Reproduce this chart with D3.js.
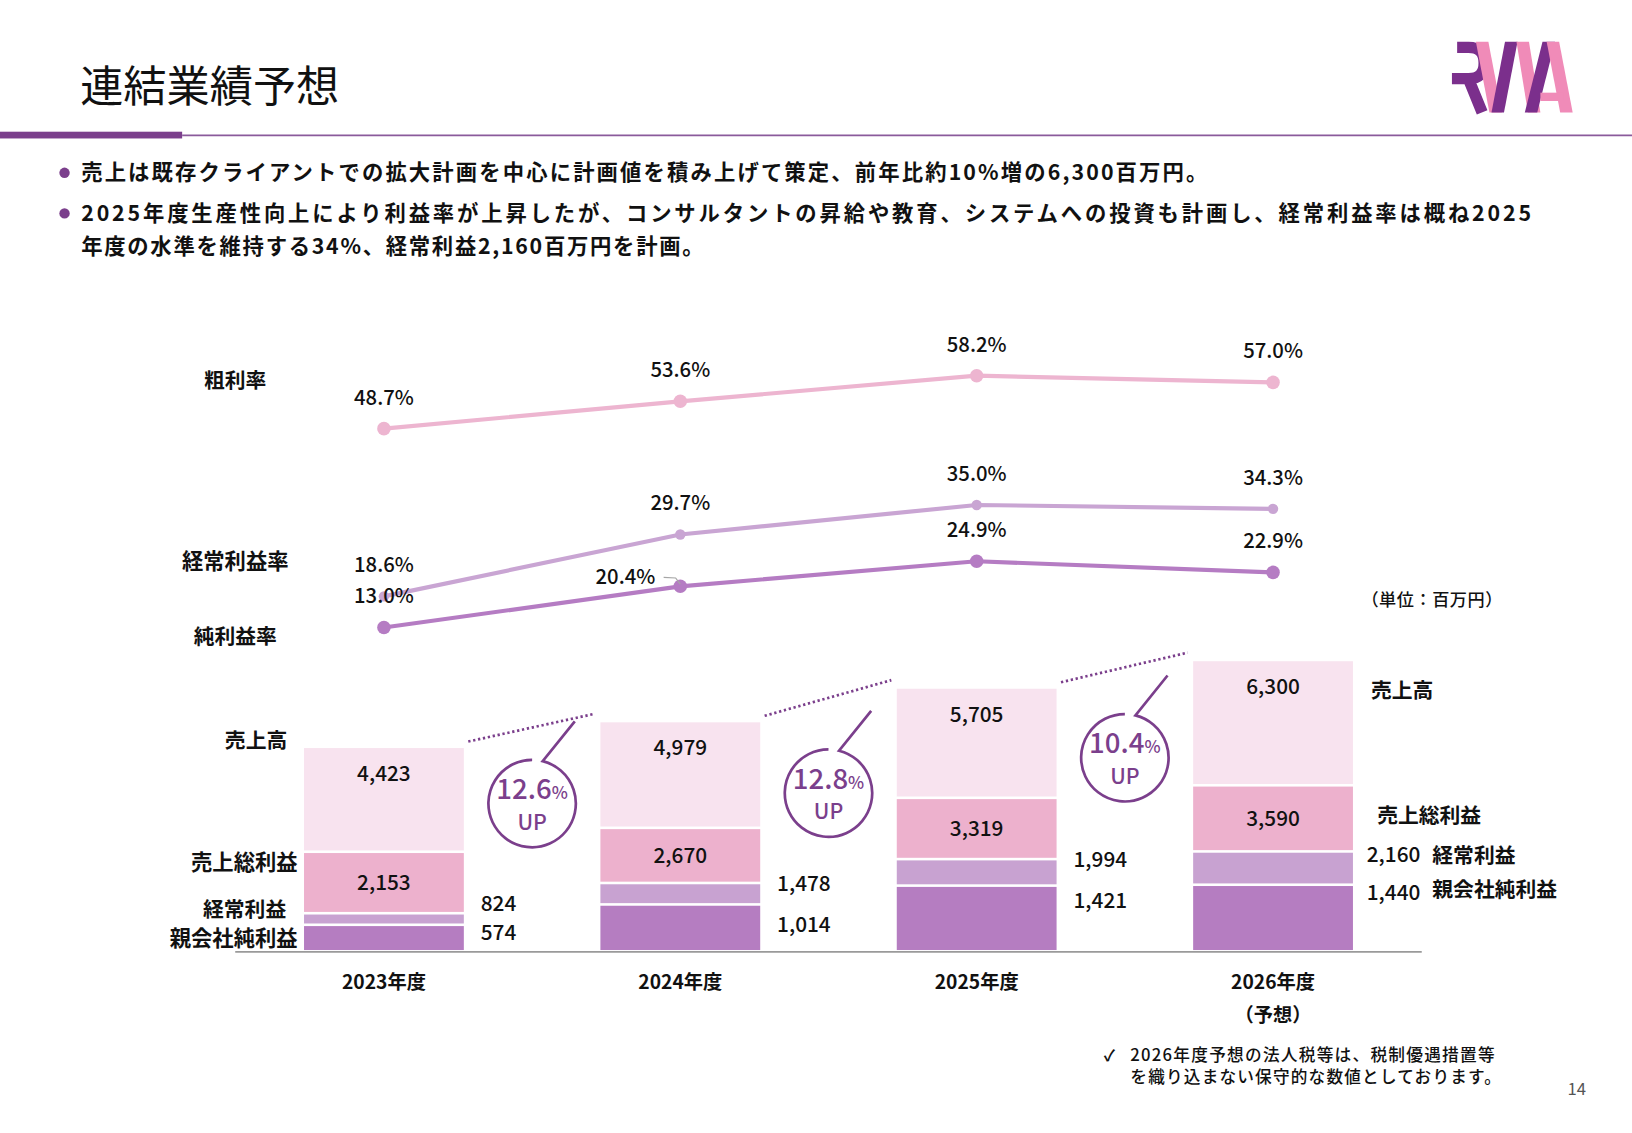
<!DOCTYPE html>
<html>
<head>
<meta charset="utf-8">
<title>連結業績予想</title>
<script src="https://cdn.jsdelivr.net/npm/d3@7"></script>
<style>
  body { margin: 0; background: #fff; }
  svg text { font-family: "Noto Sans CJK JP", "Noto Sans", sans-serif; fill: #111; }
</style>
</head>
<body>
<div id="chart"></div>
<script>
var W = 1632, H = 1133;
// layout is worked out on a 1568-wide page, then scaled up to the window
var VW = 1568, VH = 1088.5;

// data
var years = ["2023年度", "2024年度", "2025年度", "2026年度"];
var sales = [4423, 4979, 5705, 6300];
var grossProfit = [2153, 2670, 3319, 3590];
var ordinaryProfit = [824, 1478, 1994, 2160];
var netProfit = [574, 1014, 1421, 1440];
var grossMargin = [48.7, 53.6, 58.2, 57.0];
var ordinaryMargin = [18.6, 29.7, 35.0, 34.3];
var netMargin = [13.0, 20.4, 24.9, 22.9];
var salesGrowth = ["12.6", "12.8", "10.4"];

var purple = "#7b3f8c";

var svg = d3.select("#chart").append("svg")
  .attr("width", W)
  .attr("height", H)
  .attr("viewBox", "0 0 " + VW + " " + VH);

//////////////// header ////////////////
svg.append("text")
  .attr("x", 77).attr("y", 83).attr("dy", "0.35em")
  .attr("font-size", 41.5)
  .text("連結業績予想");

svg.append("rect").attr("x", 0).attr("y", 126.5).attr("width", 175).attr("height", 6.5).attr("fill", purple);
svg.append("line").attr("x1", 175).attr("x2", VW).attr("y1", 130).attr("y2", 130)
  .attr("stroke", "#8a5a9b").attr("stroke-width", 1.6);

// logo
var logoPurple = "#7b2f8c", logoPink = "#f08bb8";
var logo = svg.append("g").attr("class", "logo");
logo.append("path")
  .attr("d", "M1400,45.5 L1411,45.5 Q1426,45.5 1426,60.5 Q1426,75.5 1411,75.5 L1395,75.5 M1411,76 L1424,108")
  .attr("fill", "none").attr("stroke", logoPurple).attr("stroke-width", 11);
// strokes of W and A, drawn left to right
var segs = [
  { x1: 1418, x2: 1431, c: logoPink },
  { x1: 1446, x2: 1433, c: logoPurple },
  { x1: 1457, x2: 1468, c: logoPink },
  { x1: 1482, x2: 1465, c: logoPurple },
  { x1: 1486, x2: 1499, c: logoPink }
];
logo.selectAll("polygon.st").data(segs).enter().append("polygon")
  .attr("class", "st")
  .attr("points", function(d) {
    return [[d.x1, 40], [d.x1 + 12, 40], [d.x2 + 12, 108], [d.x2, 108]].join(" ");
  })
  .attr("fill", function(d) { return d.c; });
logo.append("rect").attr("x", 1480).attr("y", 89).attr("width", 22).attr("height", 8).attr("fill", logoPink);

// bullets
var bullets = [
  { y: 166, w: 1082, t: "売上は既存クライアントでの拡大計画を中心に計画値を積み上げて策定、前年比約10%増の6,300百万円。", dot: true },
  { y: 205, w: 1393, t: "2025年度生産性向上により利益率が上昇したが、コンサルタントの昇給や教育、システムへの投資も計画し、経常利益率は概ね2025", dot: true },
  { y: 237, w: 598, t: "年度の水準を維持する34%、経常利益2,160百万円を計画。", dot: false }
];
bullets.forEach(function(b) {
  if (b.dot) svg.append("circle").attr("cx", 62).attr("cy", b.y).attr("r", 5).attr("fill", purple);
  svg.append("text")
    .attr("x", 78).attr("y", b.y).attr("dy", "0.35em")
    .attr("font-size", 20.5).attr("font-weight", 700)
    .attr("textLength", b.w).attr("lengthAdjust", "spacing")
    .text(b.t);
});

//////////////// scales ////////////////
var x = d3.scaleBand().domain(years).range([226.5, 1365.5]).paddingInner(0.452).paddingOuter(0.226);
var bw = x.bandwidth();
var yBar = d3.scaleLinear().domain([0, 6300]).range([914, 634]);
var yRate = d3.scaleLinear().domain([0, 60]).range([672.5, 351.3]);
function cx(i) { return x(years[i]) + bw / 2; }

//////////////// bars ////////////////
var barSeries = [
  { key: "sales", values: sales, color: "#f8e3ef" },
  { key: "gross", values: grossProfit, color: "#edb1cd" },
  { key: "ordinary", values: ordinaryProfit, color: "#c8a2d1" },
  { key: "net", values: netProfit, color: "#b57dc1" }
];
barSeries.forEach(function(s) {
  svg.append("g").attr("class", "bars " + s.key)
    .selectAll("rect").data(s.values).enter().append("rect")
    .attr("x", function(d, i) { return x(years[i]); })
    .attr("y", function(d) { return yBar(d); })
    .attr("width", bw)
    .attr("height", function(d) { return yBar(0) - yBar(d); })
    .attr("fill", s.color)
    .attr("stroke", "#fff")
    .attr("stroke-width", 2.5);
});

svg.append("line")
  .attr("x1", 226).attr("x2", 1366).attr("y1", yBar(0) + 0.5).attr("y2", yBar(0) + 0.5)
  .attr("stroke", "#9a9a9a").attr("stroke-width", 1.6);

var numFmt = d3.format(",");
function label(g, xx, yy, txt, anchor, size, weight) {
  return g.append("text")
    .attr("x", xx).attr("y", yy).attr("dy", "0.35em")
    .attr("text-anchor", anchor || "middle")
    .attr("font-size", size || 20)
    .attr("font-weight", weight || 500)
    .text(txt);
}

var barLabels = svg.append("g").attr("class", "bar-labels");
years.forEach(function(yr, i) {
  label(barLabels, cx(i), yBar(sales[i]) + 26, numFmt(sales[i]));
  label(barLabels, cx(i), (yBar(grossProfit[i]) + yBar(ordinaryProfit[i])) / 2, numFmt(grossProfit[i]));
  var netL = Math.min((yBar(netProfit[i]) + yBar(0)) / 2, yBar(0) - 18);
  var ordL = Math.min(yBar(ordinaryProfit[i]) + 1, netL - 28);
  if (netL - ordL > 39) netL = ordL + 39;
  var last = i === years.length - 1;
  var lx = x(yr) + bw + (last ? 12 : 15);
  label(barLabels, lx, last ? ordL + 2 : ordL, numFmt(ordinaryProfit[i]), "start");
  label(barLabels, lx, netL, numFmt(netProfit[i]), "start");
  if (last) {
    label(barLabels, lx + 63, ordL + 3, "経常利益", "start", 20, 700);
    label(barLabels, lx + 63, netL - 3, "親会社純利益", "start", 20, 700);
    label(barLabels, x(yr) + bw + 16, yBar(sales[i]) + 30, "売上高", "start", 20, 700);
    label(barLabels, x(yr) + bw + 22, (yBar(grossProfit[i]) + yBar(ordinaryProfit[i])) / 2 - 3, "売上総利益", "start", 20, 700);
  }
});

// category labels on the left
var left = svg.append("g").attr("class", "left-labels");
label(left, 226, yRate(grossMargin[0]) - 46, "粗利率", "middle", 20, 700);
label(left, 226, yRate(ordinaryMargin[0]) - 33, "経常利益率", "middle", 20.5, 700);
label(left, 226, yRate(netMargin[0]) + 9, "純利益率", "middle", 20, 700);
label(left, 276, yBar(sales[0]) - 6, "売上高", "end", 20, 700);
label(left, 286, yBar(grossProfit[0]) + 10, "売上総利益", "end", 20.5, 700);
label(left, 275, yBar(ordinaryProfit[0]) - 3, "経常利益", "end", 20, 700);
label(left, 286, yBar(netProfit[0]) + 13, "親会社純利益", "end", 20.5, 700);

// year axis
var axisG = svg.append("g").attr("class", "x-axis");
years.forEach(function(yr, i) {
  label(axisG, cx(i), 944, yr, "middle", 18.5, 700);
});
label(axisG, cx(3), 975, "（予想）", "middle", 18.5, 700);

//////////////// growth callouts ////////////////
var callG = svg.append("g").attr("class", "callouts");
var callY = [772, 762, 728];
salesGrowth.forEach(function(g, i) {
  var x0 = x(years[i]) + bw, x1 = x(years[i + 1]);
  var y0 = yBar(sales[i]), y1 = yBar(sales[i + 1]);
  // dotted connector between the sales bars
  callG.append("line")
    .attr("x1", x0 + 3).attr("y1", y0 - 5)
    .attr("x2", x1 - 4).attr("y2", y1 - 7)
    .attr("stroke", purple).attr("stroke-width", 2.6)
    .attr("stroke-dasharray", "2.2,2.6");
  var ccx = (x0 + x1) / 2, ccy = callY[i], r = 42;
  var a = 14 * Math.PI / 180;
  var ex = ccx + r * Math.sin(a), ey = ccy - r * Math.cos(a);
  callG.append("path")
    .attr("d", "M" + ccx + "," + (ccy - r) +
      " A" + r + "," + r + " 0 1 0 " + ex + "," + ey +
      " L" + (ccx + 41) + "," + (ccy - 79))
    .attr("fill", "#fff").attr("stroke", purple).attr("stroke-width", 2.6);
  var t = callG.append("text")
    .attr("x", ccx).attr("y", ccy - 10).attr("dy", "0.35em")
    .attr("text-anchor", "middle").attr("font-weight", 500)
    .style("fill", purple);
  t.append("tspan").attr("font-size", 26.5).text(g);
  t.append("tspan").attr("font-size", 16.5).text("%");
  callG.append("text")
    .attr("x", ccx).attr("y", ccy + 18).attr("dy", "0.35em")
    .attr("text-anchor", "middle").attr("font-size", 20.5).attr("font-weight", 500)
    .style("fill", purple).text("UP");
});

//////////////// margin lines ////////////////
var lineSeries = [
  { key: "gross", values: grossMargin, color: "#edb5d0", r: 6.5 },
  { key: "ordinary", values: ordinaryMargin, color: "#c9a5d3", r: 5 },
  { key: "net", values: netMargin, color: "#b57cc3", r: 6.5 }
];
var line = d3.line()
  .x(function(d, i) { return cx(i); })
  .y(function(d) { return yRate(d); });

lineSeries.forEach(function(s) {
  var g = svg.append("g").attr("class", "line " + s.key);
  g.append("path").attr("d", line(s.values))
    .attr("fill", "none").attr("stroke", s.color).attr("stroke-width", 4);
  g.selectAll("circle").data(s.values).enter().append("circle")
    .attr("cx", function(d, i) { return cx(i); })
    .attr("cy", function(d) { return yRate(d); })
    .attr("r", s.r).attr("fill", s.color);
});

var pctFmt = function(v) { return v.toFixed(1) + "%"; };
var rateLabels = svg.append("g").attr("class", "rate-labels");
lineSeries.forEach(function(s) {
  s.values.forEach(function(v, i) {
    if (s.key === "net" && i === 1) {
      var px = cx(i), py = yRate(v);
      label(rateLabels, px - 24, py - 9, pctFmt(v), "end", 19.5, 500);
      rateLabels.append("path")
        .attr("d", "M" + (px - 16) + "," + (py - 8.5) + " L" + (px - 4.5) + "," + (py - 8) + " L" + px + "," + (py - 2))
        .attr("fill", "none").attr("stroke", "#a6a6a6").attr("stroke-width", 1.2);
    } else {
      label(rateLabels, cx(i), yRate(v) - 30, pctFmt(v), "middle", 19.5, 500);
    }
  });
});

//////////////// notes ////////////////
label(svg, 1376, 576, "（単位：百万円）", "middle", 16.5, 500).attr("letter-spacing", 0.5);
label(svg, 1066, 1014, "✓", "middle", 15, 700);
label(svg, 1086, 1014, "2026年度予想の法人税等は、税制優遇措置等", "start", 16, 500)
  .attr("textLength", 350).attr("lengthAdjust", "spacing");
label(svg, 1086, 1035, "を織り込まない保守的な数値としております。", "start", 16, 500)
  .attr("textLength", 356).attr("lengthAdjust", "spacing");
label(svg, 1515, 1046, "14", "middle", 16, 400).style("fill", "#555");
</script>
</body>
</html>
